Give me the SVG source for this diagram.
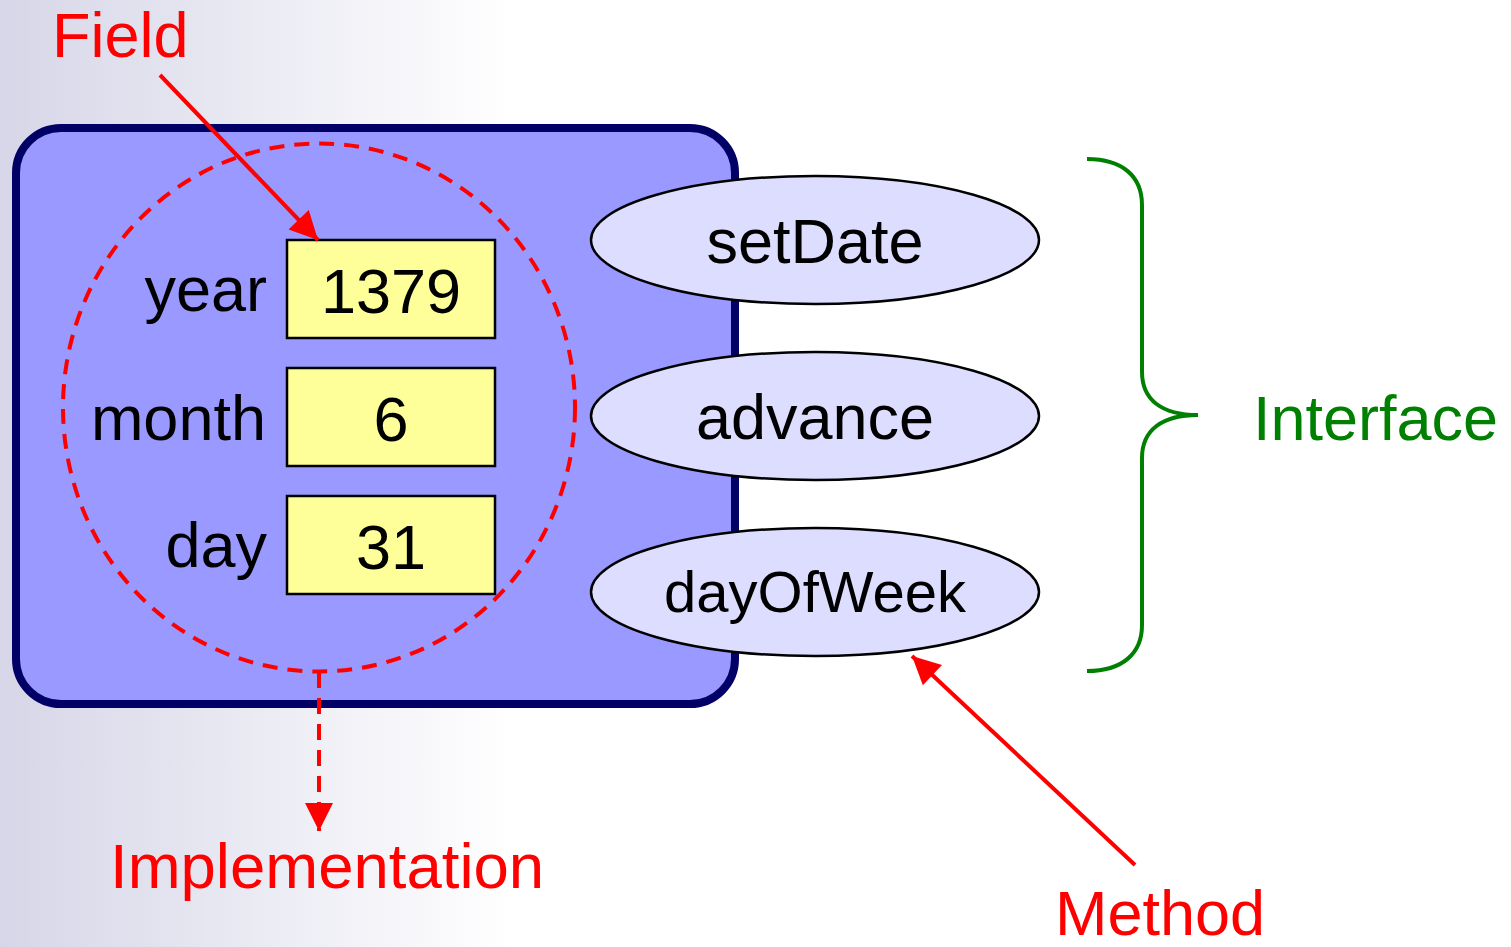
<svg xmlns="http://www.w3.org/2000/svg" width="1511" height="947" viewBox="0 0 1511 947">
<defs>
<linearGradient id="bg" x1="0" y1="0" x2="1" y2="0">
<stop offset="0" stop-color="#d6d6e8"/>
<stop offset="0.34" stop-color="#ffffff"/>
<stop offset="1" stop-color="#ffffff"/>
</linearGradient>
<marker id="ah" viewBox="0 0 10 10" refX="10" refY="5" markerWidth="8" markerHeight="7" markerUnits="strokeWidth" orient="auto">
<path d="M0,0 L10,5 L0,10 z" fill="#ff0000"/>
</marker>
<style>
text{font-family:"Liberation Sans",Arial,sans-serif;font-size:63px}
.lbl{fill:#000}
.red{fill:#ff0000}
.field{fill:#ffff99;stroke:#000;stroke-width:2.5}
.meth{fill:#ddddff;stroke:#000;stroke-width:2.5}
.arrow{stroke:#ff0000;stroke-width:4;fill:none}
</style>
</defs>
<rect x="0" y="0" width="1511" height="947" fill="url(#bg)"/>
<g id="object">
<rect x="16" y="128" width="719" height="576" rx="45" ry="45" fill="#9999ff" stroke="#000066" stroke-width="8"/>
</g>
<g id="implementation-circle">
<ellipse cx="319" cy="407.5" rx="256" ry="264" fill="none" stroke="#ff0000" stroke-width="4" stroke-dasharray="15 10"/>
</g>
<g id="field-year">
<text x="267" y="311" text-anchor="end" class="lbl">year</text>
<rect x="287" y="240" width="208" height="98" class="field"/>
<text x="391" y="313" text-anchor="middle" class="lbl">1379</text>
</g>
<g id="field-month">
<text x="266" y="440" text-anchor="end" class="lbl">month</text>
<rect x="287" y="368" width="208" height="98" class="field"/>
<text x="391" y="441" text-anchor="middle" class="lbl">6</text>
</g>
<g id="field-day">
<text x="267" y="567" text-anchor="end" class="lbl">day</text>
<rect x="287" y="496" width="208" height="98" class="field"/>
<text x="391" y="569" text-anchor="middle" class="lbl">31</text>
</g>
<g id="method-setDate">
<ellipse cx="815" cy="240" rx="224" ry="64" class="meth"/>
<text x="815" y="263" text-anchor="middle" class="lbl">setDate</text>
</g>
<g id="method-advance">
<ellipse cx="815" cy="416" rx="224" ry="64" class="meth"/>
<text x="815" y="439" text-anchor="middle" class="lbl">advance</text>
</g>
<g id="method-dayOfWeek">
<ellipse cx="815" cy="592" rx="224" ry="64" class="meth"/>
<text x="815" y="612" text-anchor="middle" class="lbl" style="font-size:58px">dayOfWeek</text>
</g>
<g id="interface-brace">
<path d="M1087,159 C1122,159 1142,176 1142,205 L1142,372 C1142,400 1162,415 1198,415 C1162,415 1142,430 1142,458 L1142,625 C1142,654 1122,671 1087,671" fill="none" stroke="#008000" stroke-width="4"/>
</g>
<g id="label-interface">
<text x="1253" y="440" fill="#008000">Interface</text>
</g>
<g id="label-field">
<text x="52" y="57" class="red">Field</text>
</g>
<g id="label-implementation">
<text x="110" y="888" class="red" style="font-size:63.5px">Implementation</text>
</g>
<g id="label-method">
<text x="1055" y="935" class="red">Method</text>
</g>
<g id="connectors">
<line x1="160" y1="75" x2="318" y2="240" class="arrow" marker-end="url(#ah)"/>
<line x1="1135" y1="865" x2="912" y2="656" class="arrow" marker-end="url(#ah)"/>
<line x1="319" y1="672" x2="319" y2="831" class="arrow" stroke-dasharray="16 10" marker-end="url(#ah)"/>
</g>
</svg>
